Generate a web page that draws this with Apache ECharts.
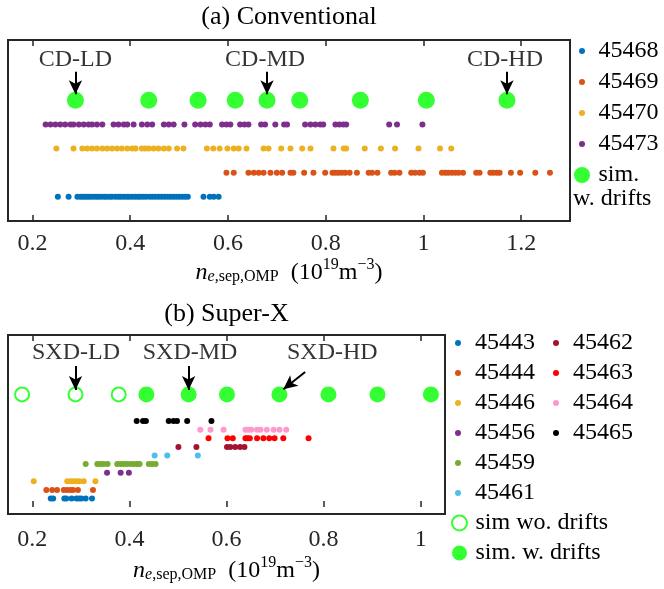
<!DOCTYPE html>
<html>
<head>
<meta charset="utf-8">
<script src="https://cdn.jsdelivr.net/npm/echarts@6/dist/echarts.min.js"></script>
<style>html,body{margin:0;padding:0;background:#fff}#c{width:664px;height:589px}</style>
</head>
<body>
<div id="c"></div>
<script>
// ---------- (a) Conventional : n_e,sep,OMP (1e19 m^-3) ----------
const top45468 = [0.252,0.274,0.292,0.298,0.303,0.308,0.313,0.318,0.324,0.330,0.335,0.341,0.347,0.352,0.358,0.363,0.370,0.376,0.381,0.387,0.393,0.398,0.404,0.410,0.416,0.421,0.427,0.433,0.440,0.446,0.452,0.458,0.464,0.470,0.476,0.482,0.488,0.494,0.500,0.506,0.512,0.518,0.550,0.563,0.571,0.581];
const top45469 = [0.597,0.612,0.642,0.653,0.663,0.673,0.687,0.700,0.711,0.728,0.734,0.756,0.775,0.799,0.814,0.820,0.826,0.833,0.840,0.849,0.864,0.888,0.895,0.906,0.934,0.941,0.951,0.975,0.983,0.992,0.999,1.038,1.045,1.051,1.058,1.065,1.072,1.081,1.108,1.115,1.137,1.143,1.150,1.156,1.179,1.198,1.229,1.259];
const top45470 = [0.249,0.284,0.302,0.312,0.322,0.332,0.343,0.353,0.363,0.373,0.383,0.394,0.404,0.411,0.424,0.431,0.438,0.448,0.458,0.469,0.479,0.496,0.509,0.557,0.570,0.583,0.599,0.612,0.622,0.638,0.673,0.683,0.709,0.728,0.752,0.769,0.816,0.837,0.842,0.880,0.913,0.942,0.990,1.034,1.057];
const top45473 = [0.227,0.237,0.247,0.257,0.267,0.278,0.284,0.295,0.305,0.315,0.322,0.332,0.343,0.366,0.376,0.387,0.394,0.407,0.424,0.435,0.445,0.469,0.479,0.489,0.511,0.533,0.544,0.554,0.563,0.588,0.597,0.605,0.625,0.634,0.642,0.668,0.676,0.697,0.715,0.721,0.758,0.769,0.779,0.789,0.795,0.820,0.828,0.836,0.842,0.930,0.946,0.998];
const topSimW = [0.288,0.438,0.539,0.615,0.680,0.747,0.871,1.006,1.171];

// ---------- (b) Super-X ----------
const b45443 = [0.238,0.243,0.266,0.270,0.281,0.291,0.296,0.301,0.310,0.323];
const b45444 = [0.229,0.241,0.251,0.265,0.272,0.279,0.284,0.294,0.325];
const b45446 = [0.203,0.272,0.279,0.285,0.291,0.297,0.306,0.330];
const b45456 = [0.354,0.382,0.399];
const b45459 = [0.310,0.334,0.340,0.347,0.355,0.375,0.382,0.388,0.395,0.402,0.409,0.416,0.421,0.440,0.447,0.454];
const b45461 = [0.452,0.478,0.541];
const b45462 = [0.501,0.538,0.601,0.608,0.618,0.628,0.637];
const b45463 = [0.563,0.602,0.613,0.639,0.643,0.648,0.663,0.676,0.688,0.699,0.717,0.769];
const b45464 = [0.546,0.567,0.594,0.639,0.645,0.651,0.663,0.670,0.683,0.697,0.709,0.723];
const b45465 = [0.415,0.428,0.434,0.481,0.491,0.498,0.519,0.569];
const bSimWo = [0.179,0.289,0.378];
const bSimW  = [0.435,0.522,0.601,0.709,0.810,0.911,1.021];

const topLegend = ['45468','45469','45470','45473'];
const botLegendCol1 = ['45443','45444','45446','45456','45459','45461'];
const botLegendCol2 = ['45462','45463','45464','45465'];
const simWoName = 'sim wo. drifts';
const simWName = 'sim. w. drifts';
const titleA = '(a) Conventional';
const titleB = '(b) Super-X';

// annotations: label, label [x,y], arrow start [x,y], arrow end [x,y]
const annotTop = [
  {t:'CD-LD', lx:topSimW[0], ly:6.67, a:[topSimW[0],6.18], b:[topSimW[0],5.25]},
  {t:'CD-MD', lx:0.676,      ly:6.67, a:[topSimW[4],6.18], b:[topSimW[4],5.25]},
  {t:'CD-HD', lx:1.167,      ly:6.67, a:[topSimW[8],6.18], b:[topSimW[8],5.25]}
];
const annotBot = [
  {t:'SXD-LD', lx:0.290, ly:17.9, a:[bSimWo[1],16.4], b:[bSimWo[1],13.6]},
  {t:'SXD-MD', lx:0.525, ly:17.9, a:[bSimW[1],16.4],  b:[bSimW[1],13.6]},
  {t:'SXD-HD', lx:0.818, ly:17.9, a:[0.762,15.7],     b:[0.717,13.7]}
];

const FONT = '"Liberation Serif", "DejaVu Serif", serif';
const FS = 24;
const AX = '#262626';
const C = {blue:'#0072BD', orange:'#D95319', yellow:'#EDB120', purple:'#7E2F8E', green:'#77AC30',
           cyan:'#4DBEEE', dred:'#A2142F', red:'#FF0000', pink:'#FF99CC', black:'#000000', sim:'#00FF00'};

function dots(name, vals, row, color, xi, yi) {
  return {type:'scatter', name, xAxisIndex:xi, yAxisIndex:yi, symbol:'circle', symbolSize:6,
    itemStyle:{color, opacity:1}, silent:true, data: vals.map(v => [v, row])};
}
function annots(list, xi, yi) {
  return {type:'scatter', xAxisIndex:xi, yAxisIndex:yi, symbolSize:1, itemStyle:{color:'rgba(0,0,0,0)'}, silent:true,
    data: list.map(a => [a.lx, a.ly, a.t]),
    label:{show:true, position:'inside', formatter:p => p.value[2], fontFamily:FONT, fontSize:FS, color:'#000'},
    markLine:{silent:true, symbol:['none','arrow'], symbolSize:[10,14], label:{show:false},
      lineStyle:{color:'#000', width:2, type:'solid'},
      data: list.map(a => [{coord:a.a}, {coord:a.b}])}};
}
const nameRich = {
  n:{fontFamily:FONT, fontStyle:'italic', fontSize:FS, lineHeight:28, verticalAlign:'bottom', color:'#000'},
  t:{fontFamily:FONT, fontSize:FS, lineHeight:28, verticalAlign:'bottom', color:'#000'},
  se:{fontFamily:FONT, fontStyle:'italic', fontSize:16, lineHeight:11, verticalAlign:'bottom', color:'#000'},
  s:{fontFamily:FONT, fontSize:16, lineHeight:11, verticalAlign:'bottom', color:'#000'},
  p:{fontFamily:FONT, fontSize:16, lineHeight:15, verticalAlign:'top', color:'#000'}
};
const xName = '{n|n}{se|e}{s|,sep,OMP}{t|  (10}{p|19}{t|m}{p|−3}{t|)}';

function xAxes(gi, min, max, title, labelMargin, nameGap, titleGap) {
  const tick = {show:true, inside:true, length:6, lineStyle:{color:AX, width:1.5}};
  return [
    {type:'value', gridIndex:gi, position:'bottom', min, max, splitNumber:5,
      axisLine:{show:false}, axisTick:tick, splitLine:{show:false},
      axisLabel:{showMinLabel:false, showMaxLabel:false, margin:labelMargin, fontFamily:FONT, fontSize:FS, color:AX},
      name:xName, nameLocation:'middle', nameGap, nameTextStyle:{rich:nameRich}},
    {type:'value', gridIndex:gi, position:'top', min, max, splitNumber:5,
      axisLine:{show:false}, axisTick:tick, splitLine:{show:false}, axisLabel:{show:false},
      name:title, nameLocation:'middle', nameGap:titleGap, nameTextStyle:{fontFamily:FONT, fontSize:26, color:'#000'}}
  ];
}

const legendText = {fontFamily:FONT, fontSize:FS, lineHeight:24, color:'#000'};
const legendBase = {orient:'vertical', padding:0, icon:'circle', selectedMode:false, textStyle:legendText};

const option = {
  backgroundColor:'#fff',
  animation:false,
  grid:[
    {left:8, top:40, width:562, height:181, show:true, borderColor:AX, borderWidth:2, backgroundColor:'transparent'},
    {left:8, top:335, width:437, height:179, show:true, borderColor:AX, borderWidth:2, backgroundColor:'transparent'}
  ],
  xAxis:[...xAxes(0, 0.15, 1.30, titleA, 11, 36, 10), ...xAxes(1, 0.15, 1.05, titleB, 14, 41, 8)],
  yAxis:[
    {type:'value', gridIndex:0, min:0, max:7.5, show:false},
    {type:'value', gridIndex:1, min:-0.8, max:20, show:false}
  ],
  legend:[
    Object.assign({}, legendBase, {data:topLegend, left:579, top:39, itemWidth:23, itemHeight:6, itemGap:7}),
    Object.assign({}, legendBase, {data:[simWName], left:574, top:163, itemWidth:23, itemHeight:16, formatter:() => 'sim.'}),
    Object.assign({}, legendBase, {data:botLegendCol1, left:455, top:331, itemWidth:24, itemHeight:6, itemGap:6}),
    Object.assign({}, legendBase, {data:botLegendCol2, left:553, top:331, itemWidth:24, itemHeight:6, itemGap:6}),
    Object.assign({}, legendBase, {data:[simWoName, simWName], left:451, top:511, itemWidth:22, itemHeight:15, itemGap:6})
  ],
  graphic:[
    {type:'text', x:573, y:199, style:{text:'w. drifts', font:FS + 'px ' + FONT, fill:'#000', verticalAlign:'middle', align:'left'}}
  ],
  series:[
    dots('45468', top45468, 1, C.blue, 0, 0),
    dots('45469', top45469, 2, C.orange, 0, 0),
    dots('45470', top45470, 3, C.yellow, 0, 0),
    dots('45473', top45473, 4, C.purple, 0, 0),
    {type:'scatter', name:simWName, xAxisIndex:0, yAxisIndex:0, symbol:'circle', symbolSize:17, silent:true,
      itemStyle:{color:C.sim}, data: topSimW.map(v => [v, 5])},
    annots(annotTop, 0, 0),

    dots('45443', b45443, 1, C.blue, 2, 1),
    dots('45444', b45444, 2, C.orange, 2, 1),
    dots('45446', b45446, 3, C.yellow, 2, 1),
    dots('45456', b45456, 4, C.purple, 2, 1),
    dots('45459', b45459, 5, C.green, 2, 1),
    dots('45461', b45461, 6, C.cyan, 2, 1),
    dots('45462', b45462, 7, C.dred, 2, 1),
    dots('45463', b45463, 8, C.red, 2, 1),
    dots('45464', b45464, 9, C.pink, 2, 1),
    dots('45465', b45465, 10, C.black, 2, 1),
    {type:'scatter', name:simWoName, xAxisIndex:2, yAxisIndex:1, symbol:'circle', symbolSize:14, silent:true,
      itemStyle:{color:'#fff', borderColor:C.sim, borderWidth:2}, data: bSimWo.map(v => [v, 13.1])},
    {type:'scatter', name:simWName, xAxisIndex:2, yAxisIndex:1, symbol:'circle', symbolSize:16, silent:true,
      itemStyle:{color:C.sim}, data: bSimW.map(v => [v, 13.1])},
    annots(annotBot, 2, 1)
  ]
};
echarts.init(document.getElementById('c'), null, {renderer:'canvas'}).setOption(option);
</script>
</body>
</html>
